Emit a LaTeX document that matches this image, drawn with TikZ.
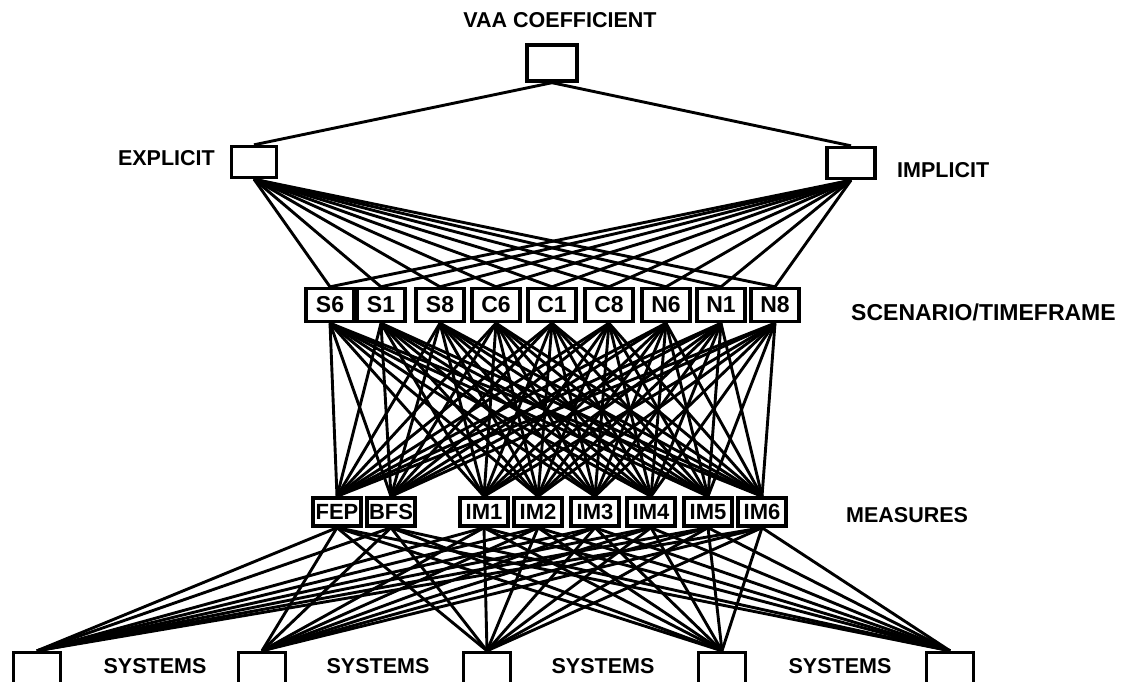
\documentclass[tikz,border=0pt]{standalone}
\usepackage{fontspec}
\setmainfont{Liberation Sans}
\usetikzlibrary{backgrounds}
\begin{document}
\begin{tikzpicture}[x=1pt,y=-1pt,
  box/.style={draw,line width=3.4pt,fill=white,inner sep=0pt,minimum width=47pt,minimum height=31pt,
    font=\fontsize{23}{26}\selectfont\bfseries},
  sbox/.style={box,minimum width=48pt,minimum height=33pt},
  mbox/.style={box,minimum width=48pt,minimum height=28pt,font=\fontsize{22}{25}\selectfont\bfseries},
  lab/.style={font=\fontsize{21.5}{24}\selectfont\bfseries,inner sep=0pt},
  conn/.style={line width=2.9pt}]
\useasboundingbox (0,0) rectangle (1131,681);
% top levels
\node[box,minimum width=50pt,minimum height=36pt] (top) at (552,63) {};
\node[box,minimum width=45pt] (expl) at (254,162) {};
\node[box,minimum width=48pt] (impl) at (851,163) {};
\node[lab] (tl) at (560,20) {VAA COEFFICIENT};
\node[lab,anchor=east] (el) at (215,158) {EXPLICIT};
\node[lab,anchor=west] (il) at (897,170) {IMPLICIT};
% scenario row
\foreach \n/\x in {S6/330,S1/381,S8/440,C6/496,C1/552,C8/609,N6/666,N1/721,N8/775}
  \node[sbox] (\n) at (\x,305) {\n};
\node[lab,anchor=west,font=\fontsize{23}{26}\selectfont\bfseries] (sl) at (851,312) {SCENARIO/TIMEFRAME};
% measures row
\foreach \n/\x in {FEP/337,BFS/391,IM1/484,IM2/538,IM3/595,IM4/651,IM5/708,IM6/762}
  \node[mbox] (\n) at (\x,512) {\n};
\node[lab,anchor=west] (ml) at (846,515) {MEASURES};
% systems row
\foreach \i/\x in {1/37,2/262,3/487,4/722,5/950}
  \node[box,minimum height=31pt] (sys\i) at (\x,668) {};
\foreach \i/\x in {1/155,2/378,3/603,4/840}
  \node[lab] (syl\i) at (\x,666) {SYSTEMS};
% connectors
\begin{scope}[on background layer]
  \draw[conn] (top.south) -- (expl.north);
  \draw[conn] (top.south) -- (impl.north);
  \foreach \s in {S6,S1,S8,C6,C1,C8,N6,N1,N8} {
    \draw[conn] (expl.south) -- (\s.north);
    \draw[conn] (impl.south) -- (\s.north);
    \foreach \m in {FEP,BFS,IM1,IM2,IM3,IM4,IM5,IM6}
      \draw[conn] (\s.south) -- (\m.north);
  }
  \foreach \m in {FEP,BFS,IM1,IM2,IM3,IM4,IM5,IM6}
    \foreach \i in {1,...,5}
      \draw[conn] (\m.south) -- (sys\i.north);
\end{scope}
\end{tikzpicture}
\end{document}
